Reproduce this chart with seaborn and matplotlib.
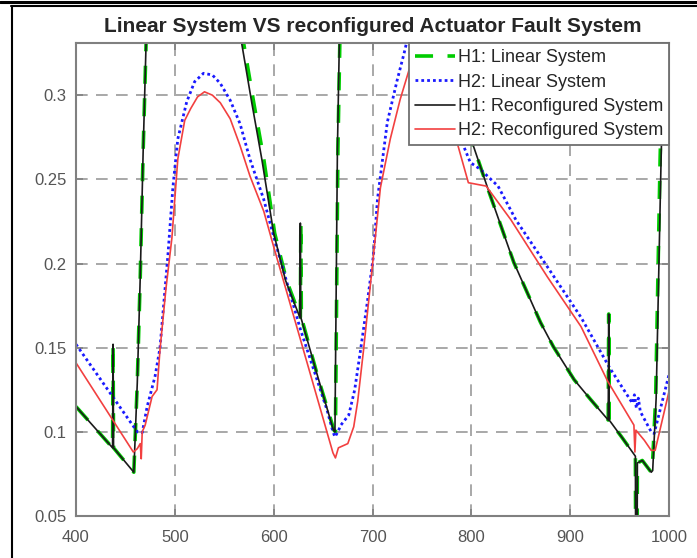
import matplotlib
matplotlib.use("Agg")
import matplotlib.pyplot as plt
from matplotlib.lines import Line2D
import seaborn as sns

# ---------------- data ----------------
title = "Linear System VS reconfigured Actuator Fault System"
labels = ["H1: Linear System", "H2: Linear System",
          "H1: Reconfigured System", "H2: Reconfigured System"]

x_ticks = [400, 500, 600, 700, 800, 900, 1000]
y_ticks = [0.05, 0.1, 0.15, 0.2, 0.25, 0.3]
y_tick_labels = ["0.05", "0.1", "0.15", "0.2", "0.25", "0.3"]

h1_lin_x = [400, 437, 437.5, 438, 458.5, 462, 465, 468, 471, 476, 520, 549, 569, 580, 590, 601, 613,
            627, 627.5, 628, 645, 661, 662.5, 665, 667, 672, 730, 775, 795, 802, 817, 843, 870, 883,
            904, 921, 938.5, 939, 939.5, 952, 966, 966.3, 967.7, 968, 973, 982, 983, 986.5, 991, 994, 1000]
h1_lin_y = [0.115, 0.0905, 0.152, 0.0905, 0.076, 0.129, 0.192, 0.268, 0.333, 0.45, 0.55, 0.42, 0.333,
            0.295, 0.262, 0.218, 0.19, 0.168, 0.224, 0.168, 0.132, 0.101, 0.1, 0.268, 0.333, 0.45, 0.55,
            0.45, 0.29, 0.27, 0.244, 0.2006, 0.165, 0.1506, 0.131, 0.119, 0.107, 0.17, 0.107, 0.097,
            0.0855, 0.02, 0.02, 0.0815, 0.083, 0.076, 0.077, 0.12, 0.262, 0.333, 0.45]

h2_lin_x = [400, 462, 467, 472, 480, 485, 493, 498, 503, 512, 520, 529, 538, 546, 556, 566, 576, 590,
            600, 627, 654, 660, 662, 665, 668, 676, 682, 688, 695, 701, 705, 715, 725, 732, 740, 760,
            785, 792, 799, 809, 827, 845, 877, 911, 940, 963, 965, 967, 969, 971, 982, 985, 1000]
h2_lin_y = [0.152, 0.1, 0.0995, 0.115, 0.133, 0.15, 0.205, 0.245, 0.274, 0.296, 0.308, 0.313, 0.312,
            0.307, 0.297, 0.283, 0.262, 0.238, 0.216, 0.161, 0.113, 0.1, 0.097, 0.1, 0.104, 0.11, 0.125,
            0.149, 0.178, 0.205, 0.238, 0.284, 0.309, 0.325, 0.345, 0.37, 0.29, 0.27, 0.26, 0.256,
            0.246, 0.226, 0.198, 0.168, 0.138, 0.117, 0.122, 0.114, 0.12, 0.112, 0.1, 0.099, 0.134]

h1_rec_x = [400, 437, 437.5, 438, 458.5, 462, 465, 468, 471, 476, 520, 547, 567, 578, 588, 600, 612,
            626.5, 627, 627.5, 645, 660.5, 662, 664.5, 666.5, 672, 730, 775, 795, 802, 817, 843, 870,
            883, 904, 921, 938.5, 939, 939.5, 952, 966, 966.3, 967.7, 968, 973, 982, 983.5, 987, 992,
            995, 1000]
h1_rec_y = [0.115, 0.0905, 0.152, 0.0905, 0.076, 0.129, 0.192, 0.268, 0.333, 0.45, 0.55, 0.42, 0.333,
            0.295, 0.262, 0.218, 0.19, 0.168, 0.224, 0.168, 0.132, 0.101, 0.1, 0.268, 0.333, 0.45, 0.55,
            0.45, 0.29, 0.27, 0.244, 0.2006, 0.165, 0.1506, 0.131, 0.119, 0.107, 0.17, 0.107, 0.097,
            0.0855, 0.02, 0.02, 0.0815, 0.083, 0.076, 0.077, 0.12, 0.262, 0.333, 0.45]

h2_rec_x = [400, 458, 462, 465, 466, 467, 470, 477, 482, 485, 491, 497, 503, 510, 516, 523, 530, 538,
            546, 556, 566, 576, 590, 600, 627, 660, 662.5, 665.5, 675, 681, 685, 691, 701, 708, 718,
            728, 737, 745, 760, 778, 786, 797, 806, 815, 840, 877, 911, 938, 964.5, 965.5, 966.5, 975,
            982, 986, 1000]
h2_rec_y = [0.141, 0.088, 0.09, 0.093, 0.084, 0.1, 0.104, 0.121, 0.125, 0.149, 0.185, 0.215, 0.262,
            0.285, 0.292, 0.299, 0.302, 0.3, 0.2955, 0.286, 0.27, 0.252, 0.231, 0.21, 0.155, 0.0875,
            0.0845, 0.0905, 0.093, 0.103, 0.118, 0.149, 0.205, 0.245, 0.274, 0.2975, 0.315, 0.33, 0.35,
            0.3, 0.271, 0.248, 0.247, 0.246, 0.226, 0.192, 0.1625, 0.13, 0.104, 0.088, 0.101, 0.095,
            0.089, 0.089, 0.124]

# ---------------- figure ----------------
sns.set_theme(style="white")
plt.rcParams["font.family"] = ["Liberation Sans", "DejaVu Sans"]

W, H = 697, 558
fig = plt.figure(figsize=(W / 100, H / 100), dpi=100)
fig.patch.set_facecolor("white")
ax = fig.add_axes([76 / W, 1 - 516 / H, (669 - 76) / W, (516 - 43) / H])

common = dict(ax=ax, estimator=None, sort=False)
sns.lineplot(x=h1_lin_x, y=h1_lin_y, color=(0.0, 0.8, 0.0), linewidth=2.6,
             linestyle=(0, (5, 4)), label=labels[0], **common)
sns.lineplot(x=h2_lin_x, y=h2_lin_y, color=(0.1, 0.1, 1.0), linewidth=2.0,
             linestyle=(0, (1, 1.1)), label=labels[1], **common)
sns.lineplot(x=h1_rec_x, y=h1_rec_y, color="#1a1a1a", linewidth=1.2,
             linestyle="-", label=labels[2], **common)
sns.lineplot(x=h2_rec_x, y=h2_rec_y, color=(0.95, 0.25, 0.25), linewidth=1.2,
             linestyle="-", label=labels[3], **common)

ax.set_xlim(400, 1000)
ax.set_ylim(0.05, 0.331)
ax.set_xticks(x_ticks)
ax.set_xticklabels([str(v) for v in x_ticks])
ax.set_yticks(y_ticks)
ax.set_yticklabels(y_tick_labels)

ax.set_axisbelow(True)
ax.grid(True, color="#9a9a9a", linestyle=(0, (7, 5)), linewidth=1.2)
for s in ax.spines.values():
    s.set_visible(True)
    s.set_color("#808080")
    s.set_linewidth(1.5)
ax.tick_params(direction="in", length=5, width=1.2, color="#808080",
               labelcolor="#555555", labelsize=12, pad=7,
               top=True, right=True, bottom=True, left=True)
ax.tick_params(axis="x", pad=10)
ax.set_xlabel("")
ax.set_ylabel("")

ax.set_title(title, fontsize=15, fontweight="bold", color="#262626", pad=8)

leg = ax.legend(loc="upper right", borderaxespad=0, fontsize=13, handlelength=2.2,
                handletextpad=0.15, labelspacing=0.41, borderpad=0.34, frameon=True,
                fancybox=False, edgecolor="#707070", framealpha=1, facecolor="white")
leg.get_frame().set_linewidth(1.3)
for t in leg.get_texts():
    t.set_color("#262626")

# screenshot frame
fig.add_artist(Line2D([0, 1], [1 - 1.5 / H] * 2, color="black", lw=2.2, transform=fig.transFigure))
fig.add_artist(Line2D([11 / W, 1], [1 - 6 / H] * 2, color="black", lw=1.5, transform=fig.transFigure))
fig.add_artist(Line2D([12 / W] * 2, [0, 1 - 6 / H], color="black", lw=1.5, transform=fig.transFigure))

fig.savefig("out.png", dpi=100)
